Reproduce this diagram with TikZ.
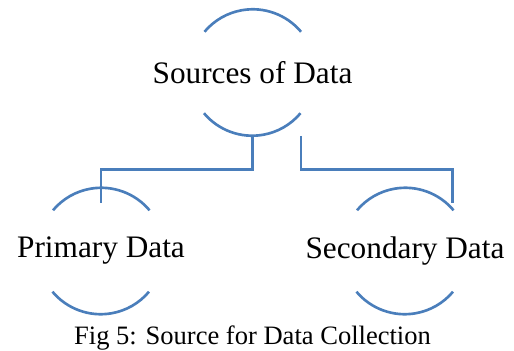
\documentclass[tikz,border=0pt]{standalone}
\usepackage{fontspec}
\setmainfont{Liberation Serif}
\usetikzlibrary{shapes}

\definecolor{linkblue}{RGB}{74,126,187}

\begin{document}
\begin{tikzpicture}[
    ring/.style={circle, minimum size=2.52cm, inner sep=0pt},
    arcline/.style={draw=linkblue, line width=1.5pt},
    link/.style={draw=linkblue, line width=1.5pt},
    word/.style={font=\fontsize{17.8}{20}\selectfont},
    capt/.style={font=\fontsize{15.1}{18}\selectfont}]
\useasboundingbox (0,0) rectangle (10.28,-7.02);

\node[ring] (src)  at (5.05,-1.45) {};
\node[ring] (prim) at (2.02,-5.02) {};
\node[ring] (sec)  at (8.10,-5.02) {};

\node[word] (srct)  at (src)  {Sources of Data};
\node[word] (primt) at (prim) {Primary Data};
\node[word] (sect)  at (sec)  {Secondary Data};

% only the top and bottom of each ring are drawn
\foreach \n in {src, prim, sec} {
  \draw[arcline] (\n.40) arc (40:140:1.26);
  \draw[arcline] (\n.220) arc (220:320:1.26);
}

\coordinate (pin) at (2.02,-4.06);
\coordinate (sin) at (9.05,-4.06);
\draw[link] (src.south) -- ++(0,-0.67) -| (pin);
\draw[link] (src.320 |- src.south) -- ++(0,-0.67) -| (sin);

\node[capt, anchor=base] (cap) at (5.05,-6.88) {Fig 5: Source for Data Collection};
\end{tikzpicture}
\end{document}
